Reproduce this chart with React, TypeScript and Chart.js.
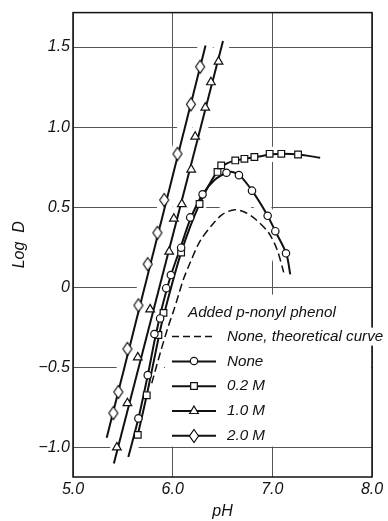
import React, { useEffect, useRef } from "react";
import { Chart, registerables } from "chart.js";
import { drawPoint } from "chart.js/helpers";

Chart.register(...registerables);

// ---- axis ticks ----
const xTicks = [5, 6, 7, 8];
const yTicks = [-1.0, -0.5, 0, 0.5, 1.0, 1.5];

// ---- legend ----
const legendTitle = "Added p-nonyl phenol";
const legendLabels = ["None, theoretical curve", "None", "0.2 M", "1.0 M", "2.0 M"];

// ---- None, theoretical curve (dashed) ----
const thX = [5.79, 5.88, 5.958, 6.008, 6.058, 6.108, 6.176, 6.276, 6.41, 6.5, 6.61, 6.72, 6.84, 6.963, 7.047, 7.114];
const thY = [-0.6, -0.4, -0.24, -0.15, -0.05, 0.05, 0.154, 0.29, 0.4, 0.455, 0.483, 0.47, 0.42, 0.34, 0.236, 0.093];

// ---- None (circles) ----
const noneX = [5.656, 5.75, 5.817, 5.874, 5.935, 5.982, 6.085, 6.176, 6.3, 6.54, 6.665, 6.796, 6.953, 7.03, 7.137];
const noneY = [-0.819, -0.549, -0.292, -0.195, -0.006, 0.076, 0.247, 0.436, 0.58, 0.715, 0.7, 0.603, 0.446, 0.35, 0.212];
const noneCurveX = [5.555, 5.656, 5.75, 5.82, 5.9, 5.98, 6.08, 6.18, 6.3, 6.42, 6.54, 6.6, 6.67, 6.8, 6.95, 7.03, 7.14, 7.18];
const noneCurveY = [-1.06, -0.82, -0.55, -0.33, -0.11, 0.07, 0.25, 0.43, 0.58, 0.67, 0.715, 0.72, 0.7, 0.6, 0.45, 0.35, 0.21, 0.08];

// ---- 0.2 M (squares) ----
const m02X = [5.65, 5.74, 5.857, 5.908, 6.085, 6.27, 6.45, 6.487, 6.628, 6.72, 6.82, 6.973, 7.09, 7.258];
const m02Y = [-0.922, -0.675, -0.298, -0.16, 0.216, 0.52, 0.72, 0.761, 0.792, 0.802, 0.813, 0.833, 0.833, 0.829];
const m02CurveX = [5.65, 5.74, 5.857, 5.908, 6.085, 6.27, 6.45, 6.55, 6.7, 6.85, 7.0, 7.1, 7.26, 7.48];
const m02CurveY = [-0.922, -0.675, -0.32, -0.18, 0.216, 0.52, 0.725, 0.775, 0.8, 0.815, 0.83, 0.833, 0.829, 0.809];

// ---- 1.0 M (triangles) ----
const m10X = [5.44, 5.546, 5.65, 5.774, 5.965, 6.012, 6.092, 6.186, 6.226, 6.327, 6.384, 6.46];
const m10Y = [-1.0, -0.724, -0.438, -0.138, 0.222, 0.428, 0.519, 0.735, 0.94, 1.121, 1.28, 1.409];
const m10LineX = [5.41, 6.505];
const m10LineY = [-1.1, 1.537];

// ---- 2.0 M (diamonds) ----
const m20X = [5.405, 5.455, 5.546, 5.656, 5.75, 5.847, 5.915, 6.048, 6.183, 6.276];
const m20Y = [-0.786, -0.654, -0.385, -0.113, 0.144, 0.34, 0.545, 0.833, 1.142, 1.377];
const m20LineX = [5.338, 6.33];
const m20LineY = [-0.94, 1.51];

const FONT_FAMILY = "'Liberation Sans', Arial, Helvetica, sans-serif";
const INK = "#111";

const pts = (xs: number[], ys: number[]) => xs.map((x, i) => ({ x, y: ys[i] }));

function makeDiamond(): HTMLCanvasElement {
  const c = document.createElement("canvas");
  c.width = 12;
  c.height = 16;
  const g = c.getContext("2d")!;
  g.beginPath();
  g.moveTo(6, 1.5);
  g.lineTo(10.5, 8);
  g.lineTo(6, 14.5);
  g.lineTo(1.5, 8);
  g.closePath();
  g.fillStyle = "#fff";
  g.fill();
  g.lineWidth = 1.1;
  g.strokeStyle = "#000";
  g.stroke();
  return c;
}

export default function App() {
  const ref = useRef<HTMLCanvasElement | null>(null);

  useEffect(() => {
    if (!ref.current) return;
    const diamond = makeDiamond();

    const lineDs = (data: any[], extra: any = {}) => ({
      data,
      showLine: true,
      borderColor: INK,
      borderWidth: 2,
      pointRadius: 0,
      tension: 0.3,
      fill: false,
      order: 1,
      ...extra,
    });
    const markDs = (data: any[], style: any, radius: number) => ({
      data,
      showLine: false,
      pointStyle: style,
      pointRadius: radius,
      pointBackgroundColor: "#fff",
      pointBorderColor: INK,
      pointBorderWidth: 1.2,
      order: 0,
    });

    const markerStyles = [
      null,
      { pointStyle: "circle", radius: 3.7 },
      { pointStyle: "rect", radius: 4.7 },
      { pointStyle: "triangle", radius: 5 },
      { pointStyle: diamond, radius: 5 },
    ];

    const haloPlugin = {
      id: "halo",
      beforeDatasetsDraw(chart: any) {
        const ctx = chart.ctx;
        const ca = chart.chartArea;
        ctx.save();
        ctx.beginPath();
        ctx.rect(ca.left + 1, ca.top + 1, ca.right - ca.left - 2, ca.bottom - ca.top - 2);
        ctx.clip();
        ctx.strokeStyle = "#fff";
        ctx.lineWidth = 15;
        ctx.lineCap = "round";
        ctx.lineJoin = "round";
        chart.data.datasets.forEach((ds: any, i: number) => {
          if (!ds.showLine) return;
          const els = chart.getDatasetMeta(i).data;
          ctx.beginPath();
          els.forEach((p: any, j: number) => (j ? ctx.lineTo(p.x, p.y) : ctx.moveTo(p.x, p.y)));
          ctx.stroke();
        });
        // legend background
        ctx.fillStyle = "#fff";
        ctx.fillRect(ca.left + 92, ca.top + 282, ca.right - ca.left - 92, 152);
        ctx.restore();
      },
      afterDatasetsDraw(chart: any) {
        const ctx = chart.ctx;
        const ca = chart.chartArea;
        ctx.save();
        ctx.strokeStyle = INK;
        ctx.lineWidth = 1.5;
        ctx.strokeRect(ca.left, ca.top, ca.right - ca.left, ca.bottom - ca.top);
        ctx.restore();
      },
      afterDraw(chart: any) {
        const ctx = chart.ctx;
        const ca = chart.chartArea;
        ctx.save();
        ctx.font = `italic 15.2px ${FONT_FAMILY}`;
        ctx.textBaseline = "middle";
        ctx.textAlign = "left";
        ctx.fillStyle = INK;
        ctx.fillText(legendTitle, ca.left + 115, ca.top + 300);
        const sx0 = ca.left + 99;
        const sx1 = ca.left + 143;
        const tx = ca.left + 154;
        legendLabels.forEach((label, i) => {
          const y = ca.top + 324 + i * 24.8;
          const w = ctx.measureText(label).width;
          ctx.fillStyle = "#fff";
          ctx.fillRect(tx - 2, y - 9, w + 4, 18);
          ctx.strokeStyle = INK;
          ctx.beginPath();
          if (i === 0) {
            ctx.lineWidth = 1.5;
            ctx.setLineDash([7, 4]);
          } else {
            ctx.lineWidth = 2;
            ctx.setLineDash([]);
          }
          ctx.moveTo(sx0, y);
          ctx.lineTo(sx1, y);
          ctx.stroke();
          ctx.setLineDash([]);
          const ms = markerStyles[i];
          if (ms) {
            ctx.fillStyle = "#fff";
            ctx.strokeStyle = INK;
            ctx.lineWidth = 1.2;
            drawPoint(
              ctx,
              { pointStyle: ms.pointStyle, radius: ms.radius, rotation: 0, borderWidth: 1.2 } as any,
              Math.round((sx0 + sx1) / 2),
              Math.round(y)
            );
          }
          ctx.fillStyle = INK;
          ctx.fillText(label, tx, y);
        });
        ctx.restore();
      },
    };

    const tickFont = { family: FONT_FAMILY, size: 16, style: "italic" as const };

    const chart = new Chart(ref.current, {
      type: "scatter",
      data: {
        datasets: [
          markDs(pts(noneX, noneY), "circle", 3.7),
          markDs(pts(m02X, m02Y), "rect", 4.7),
          markDs(pts(m10X, m10Y), "triangle", 5),
          markDs(pts(m20X, m20Y), diamond, 5),
          lineDs(pts(thX, thY), { borderWidth: 1.5, borderDash: [8, 4] }),
          lineDs(pts(noneCurveX, noneCurveY)),
          lineDs(pts(m02CurveX, m02CurveY)),
          lineDs(pts(m10LineX, m10LineY), { tension: 0 }),
          lineDs(pts(m20LineX, m20LineY), { tension: 0 }),
        ] as any,
      },
      options: {
        responsive: false,
        animation: false,
        layout: { padding: { top: 7, right: 16, left: 0, bottom: 0 } },
        plugins: { legend: { display: false }, tooltip: { enabled: false } },
        scales: {
          x: {
            type: "linear",
            min: 5,
            max: 8,
            afterBuildTicks: (s: any) => {
              s.ticks = xTicks.map((v) => ({ value: v }));
            },
            afterFit: (s: any) => {
              s.height = 44;
            },
            ticks: {
              autoSkip: false,
              maxRotation: 0,
              color: INK,
              font: tickFont,
              padding: 3,
              callback: (v: any) => Number(v).toFixed(1),
            },
            grid: { color: "#555", lineWidth: 1, drawTicks: false },
            border: { display: false },
            title: {
              display: true,
              text: "pH",
              color: INK,
              font: tickFont,
              padding: { top: 2, bottom: 0 },
            },
          },
          y: {
            type: "linear",
            min: -1.185,
            max: 1.715,
            afterBuildTicks: (s: any) => {
              s.ticks = yTicks.map((v) => ({ value: v }));
            },
            afterFit: (s: any) => {
              s.width = 73;
            },
            ticks: {
              autoSkip: false,
              color: INK,
              font: tickFont,
              padding: 3,
              callback: (v: any) => {
                const n = Number(v);
                if (n === 0) return "0";
                return (n < 0 ? "\u2212" : "") + Math.abs(n).toFixed(1);
              },
            },
            grid: { color: "#555", lineWidth: 1, drawTicks: false },
            border: { display: false },
            title: {
              display: true,
              text: "Log  D",
              color: INK,
              font: tickFont,
              padding: { top: 10, bottom: 0 },
            },
          },
        },
      },
      plugins: [haloPlugin],
    });

    return () => chart.destroy();
  }, []);

  return (
    <div style={{ position: "absolute", left: 0, top: 0, width: 388, height: 521, background: "#fff" }}>
      <canvas ref={ref} width={388} height={521} style={{ display: "block" }} />
    </div>
  );
}
